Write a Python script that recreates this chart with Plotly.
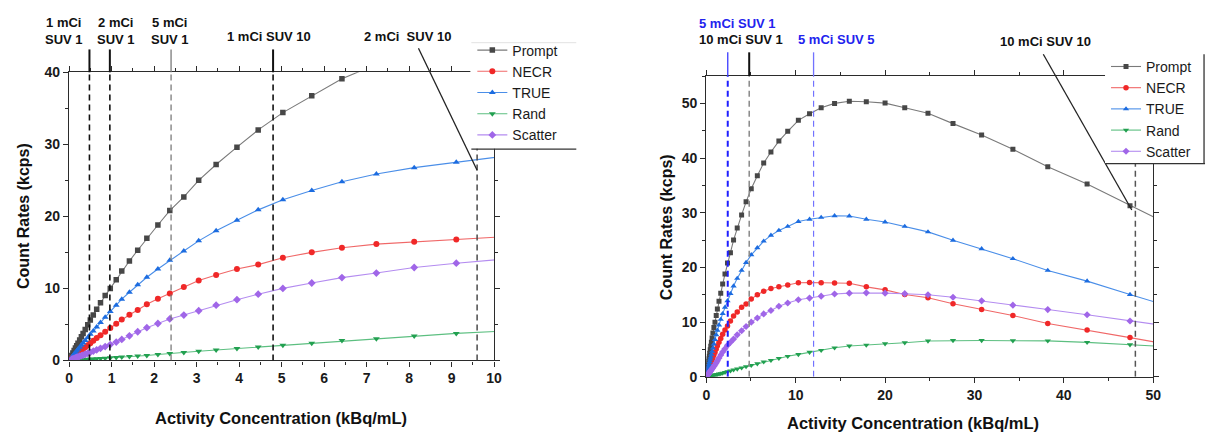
import plotly.graph_objects as go

# ---------------- data ----------------
activity = [0.06, 0.09, 0.12, 0.15, 0.18, 0.21, 0.25, 0.29, 0.33, 0.38,
            0.44, 0.50, 0.57, 0.65, 0.74, 0.85, 0.97, 1.11, 1.24, 1.42,
            1.615, 1.83, 2.09, 2.37, 2.70, 3.05, 3.46, 3.95, 4.45, 5.03,
            5.71, 6.42, 7.23, 8.12, 9.11, 10.3, 11.55, 12.85, 14.35, 16.0,
            17.9, 20.0, 22.2, 24.8, 27.6, 30.8, 34.3, 38.2, 42.6, 47.4, 52.8]

prompt = [0.7, 1.04, 1.38, 1.72, 2.05, 2.4, 2.85, 3.3, 3.75, 4.3,
          4.95, 5.6, 6.3, 7.1, 8.0, 9.0, 10.0, 11.2, 12.4, 13.8,
          15.3, 16.95, 18.8, 20.8, 22.7, 25.0, 27.2, 29.6, 32.0, 34.4,
          36.75, 39.1, 41.1, 43.1, 44.9, 46.9, 48.1, 49.2, 50.0, 50.4,
          50.3, 50.05, 49.2, 48.2, 46.3, 44.2, 41.6, 38.4, 35.25, 31.3, 27.0]

necr = [0.29, 0.43, 0.58, 0.72, 0.87, 1.01, 1.2, 1.4, 1.59, 1.83,
        2.12, 2.4, 2.73, 3.1, 3.5, 3.98, 4.5, 5.1, 5.67, 6.33,
        7.0, 7.8, 8.57, 9.3, 10.2, 11.1, 11.87, 12.7, 13.3, 14.25,
        15.0, 15.65, 16.15, 16.46, 16.8, 17.2, 17.25, 17.2, 17.15, 17.1,
        16.45, 15.9, 15.05, 14.45, 13.35, 12.3, 11.2, 9.76, 8.58, 7.17, 5.6]

true_c = [0.44, 0.66, 0.88, 1.1, 1.32, 1.54, 1.83, 2.12, 2.41, 2.77,
          3.2, 3.62, 4.1, 4.65, 5.25, 6.0, 6.8, 7.67, 8.5, 9.46,
          10.5, 11.55, 12.7, 13.9, 15.2, 16.6, 18.0, 19.45, 20.9, 22.3,
          23.6, 24.8, 25.87, 26.76, 27.5, 28.4, 28.8, 29.15, 29.45, 29.4,
          28.8, 28.3, 27.5, 26.5, 24.97, 23.4, 21.6, 19.45, 17.5, 15.05, 12.4]

rand = [0.02, 0.03, 0.04, 0.05, 0.06, 0.07, 0.09, 0.1, 0.12, 0.14,
        0.16, 0.18, 0.21, 0.24, 0.27, 0.31, 0.36, 0.41, 0.46, 0.53,
        0.6, 0.69, 0.82, 0.97, 1.1, 1.27, 1.45, 1.65, 1.87, 2.1,
        2.4, 2.75, 3.02, 3.38, 3.75, 4.1, 4.5, 4.85, 5.3, 5.64,
        5.8, 6.06, 6.24, 6.55, 6.64, 6.64, 6.6, 6.58, 6.3, 5.88, 5.4]

scatter = [0.14, 0.21, 0.28, 0.35, 0.41, 0.48, 0.57, 0.66, 0.75, 0.86,
           1.0, 1.13, 1.29, 1.47, 1.68, 1.93, 2.2, 2.55, 2.92, 3.42,
           3.98, 4.55, 5.13, 5.76, 6.3, 6.9, 7.67, 8.43, 9.2, 10.0,
           10.75, 11.5, 12.13, 12.9, 13.5, 14.1, 14.4, 14.75, 15.15, 15.3,
           15.35, 15.3, 15.2, 15.0, 14.55, 13.9, 13.1, 12.3, 11.35, 10.2, 9.0]

series_names = ["Prompt", "NECR", "TRUE", "Rand", "Scatter"]
series_values = [prompt, necr, true_c, rand, scatter]

# reference activity lines (kBq/mL)
left_marks = [0.48, 0.96, 2.4, 4.8]
left_dashed = [0.48, 0.96, 2.4, 4.8, 9.6]
right_marks = [2.4, 4.8, 12.0]
right_dashed = [2.4, 4.8, 12.0, 48.0]

left_xticks = list(range(0, 11))
left_yticks = [0, 10, 20, 30, 40]
right_xticks = [0, 10, 20, 30, 40, 50]
right_yticks = [0, 10, 20, 30, 40, 50]

# ---------------- styling ----------------
W, H = 1216, 441
FONT = "Liberation Sans, Arial, sans-serif"
marker_colors = ["#474747", "#f02828", "#1c6ce0", "#22a050", "#a066e8"]
line_colors = ["#7a7a7a", "#f06868", "#4a8ee8", "#5cbf80", "#b48cf0"]
symbols = ["square", "circle", "triangle-up", "triangle-down", "diamond"]

L_dom_x = [65.7 / W, 495.0 / W]
L_dom_y = [1 - 365.7 / H, 1 - 66.7 / H]
R_dom_x = [709.3 / W, 1160.7 / W]
R_dom_y = [1 - 382.7 / H, 1 - 70.6 / H]
L_rx, L_ry = [0, 10], [0, 40]
R_rx, R_ry = [0, 50], [0, 55]


def to_paper(v, dom, rng):
    return dom[0] + (v - rng[0]) / (rng[1] - rng[0]) * (dom[1] - dom[0])


def py(p):  # pixel row -> paper y
    return 1 - p / H


def pxx(p):  # pixel column -> paper x
    return p / W


def bold_labels(vals):
    return ["<b>%g</b>" % v for v in vals]


fig = go.Figure()

for i, name in enumerate(series_names):
    for xa, ya, leg, msize in (("x", "y", "legend", 6), ("x2", "y2", "legend2", 5.5)):
        fig.add_trace(go.Scatter(
            x=activity, y=series_values[i], name=name, mode="lines+markers",
            xaxis=xa, yaxis=ya, legend=leg,
            line=dict(color=line_colors[i], width=1.1),
            marker=dict(symbol=symbols[i], size=msize if symbols[i] != "square" else msize - 0.5,
                        color=marker_colors[i], line=dict(width=0)),
        ))

axis_common = dict(showline=True, linecolor="#2b2b2b", linewidth=1.3, mirror="allticks",
                   ticks="outside", ticklen=5, tickwidth=1.2, tickcolor="#2b2b2b",
                   showgrid=False, zeroline=False,
                   tickfont=dict(family=FONT, size=14, color="#1a1a1a"))

minor_style = dict(ticks="outside", ticklen=3, tickcolor="#2b2b2b")

fig.update_layout(
    width=W, height=H, autosize=False,
    margin=dict(l=0, r=0, t=0, b=0),
    paper_bgcolor="white", plot_bgcolor="white",
    font=dict(family=FONT),
    xaxis=dict(domain=L_dom_x, range=L_rx, tickvals=left_xticks,
               ticktext=bold_labels(left_xticks), anchor="y",
               minor=dict(dtick=0.5, **minor_style), **axis_common),
    yaxis=dict(domain=L_dom_y, range=L_ry, tickvals=left_yticks,
               ticktext=bold_labels(left_yticks), anchor="x",
               minor=dict(dtick=5, **minor_style), **axis_common),
    xaxis2=dict(domain=R_dom_x, range=R_rx, tickvals=right_xticks,
                ticktext=bold_labels(right_xticks), anchor="y2",
                minor=dict(dtick=5, **minor_style), **axis_common),
    yaxis2=dict(domain=R_dom_y, range=R_ry, tickvals=right_yticks,
                ticktext=bold_labels(right_yticks), anchor="x2",
                minor=dict(dtick=5, **minor_style), **axis_common),
    legend=dict(x=pxx(473), y=py(27.5), xanchor="left", yanchor="top",
                bgcolor="rgba(0,0,0,0)", borderwidth=0,
                font=dict(family=FONT, size=14, color="#1a1a1a"),
                tracegroupgap=0),
    legend2=dict(x=pxx(1113), y=py(44.5), xanchor="left", yanchor="top",
                 bgcolor="rgba(0,0,0,0)", borderwidth=0,
                 font=dict(family=FONT, size=14, color="#1a1a1a"),
                 tracegroupgap=0),
)

shapes = []
DASH = "6px,4px"
left_dash_style = {0.48: ("#111111", 1.6), 0.96: ("#111111", 1.6), 2.4: ("#7a7a7a", 1.3),
                   4.8: ("#111111", 1.6), 9.6: ("#4a4a4a", 1.5)}
for xv in left_dashed:
    c, w = left_dash_style[xv]
    shapes.append(dict(type="line", xref="x", yref="y", x0=xv, x1=xv, y0=0, y1=40,
                       line=dict(color=c, width=w, dash=DASH)))
left_mark_style = {0.48: ("#111111", 2.0), 0.96: ("#111111", 2.0), 2.4: ("#7a7a7a", 1.3),
                   4.8: ("#111111", 2.0)}
for xv in left_marks:
    c, w = left_mark_style[xv]
    xp = to_paper(xv, L_dom_x, L_rx)
    shapes.append(dict(type="line", xref="paper", yref="paper", x0=xp, x1=xp,
                       y0=py(43), y1=L_dom_y[1], line=dict(color=c, width=w)))
right_dash_style = {2.4: ("#1f1fff", 2.0), 4.8: ("#888888", 1.5), 12.0: ("#7272ff", 1.2),
                    48.0: ("#555555", 1.5)}
for xv in right_dashed:
    c, w = right_dash_style[xv]
    shapes.append(dict(type="line", xref="x2", yref="y2", x0=xv, x1=xv, y0=0, y1=55,
                       line=dict(color=c, width=w, dash=DASH)))
right_mark_style = {2.4: ("#3b3bff", 1.3), 4.8: ("#111111", 2.0), 12.0: ("#7272ff", 1.3)}
for xv in right_marks:
    c, w = right_mark_style[xv]
    xp = to_paper(xv, R_dom_x, R_rx)
    shapes.append(dict(type="line", xref="paper", yref="paper", x0=xp, x1=xp,
                       y0=py(46), y1=R_dom_y[1], line=dict(color=c, width=w)))

# pointer lines for the "SUV 10" labels
shapes.append(dict(type="line", xref="paper", yref="paper",
                   x0=to_paper(8.22, L_dom_x, L_rx), y0=py(41.7),
                   x1=to_paper(9.6, L_dom_x, L_rx), y1=to_paper(26.4, L_dom_y, L_ry),
                   line=dict(color="#222222", width=1.3)))
shapes.append(dict(type="line", xref="paper", yref="paper",
                   x0=to_paper(37.7, R_dom_x, R_rx), y0=py(48),
                   x1=to_paper(47.6, R_dom_x, R_rx), y1=to_paper(30.5, R_dom_y, R_ry),
                   line=dict(color="#222222", width=1.3)))

# legend boxes: white background hiding the frame corner, plus frame fragments
shapes.append(dict(type="rect", xref="paper", yref="paper", layer="above",
                   x0=pxx(471), x1=pxx(584), y0=py(146), y1=py(34),
                   fillcolor="white", line=dict(width=0)))
shapes.append(dict(type="rect", xref="paper", yref="paper", layer="above",
                   x0=pxx(1112), x1=pxx(1216), y0=py(161), y1=py(46),
                   fillcolor="white", line=dict(width=0)))
shapes.append(dict(type="line", xref="paper", yref="paper", x0=pxx(472), x1=pxx(578),
                   y0=py(36), y1=py(36), line=dict(color="#e2e2e2", width=1), layer="above"))
shapes.append(dict(type="line", xref="paper", yref="paper", x0=pxx(472), x1=pxx(578),
                   y0=py(146.5), y1=py(146.5), line=dict(color="#333333", width=1.3), layer="above"))
shapes.append(dict(type="line", xref="paper", yref="paper", x0=pxx(1112), x1=pxx(1213),
                   y0=py(161.5), y1=py(161.5), line=dict(color="#333333", width=1.3), layer="above"))
shapes.append(dict(type="line", xref="paper", yref="paper", x0=pxx(1212), x1=pxx(1212),
                   y0=py(48), y1=py(161.5), line=dict(color="#333333", width=1.3), layer="above"))
fig.update_layout(shapes=shapes)

anns = []


def ann(text, xpix, ypix, color="#111111", size=13, angle=0):
    anns.append(dict(text="<b>" + text.replace("<br>", "</b><br><b>") + "</b>",
                     xref="paper", yref="paper", x=pxx(xpix), y=py(ypix),
                     xanchor="center", yanchor="middle", showarrow=False, textangle=angle,
                     font=dict(family=FONT, size=size, color=color)))


ann("1 mCi<br>SUV 1", 61, 23.5)
ann("2 mCi<br>SUV 1", 113, 23.5)
ann("5 mCi<br>SUV 1", 168, 23.5)
ann("1 mCi SUV 10", 267.5, 30)
ann("2 mCi  SUV 10", 408, 30)
ann("5 mCi SUV 1", 741, 16, color="#2222ee")
ann("10 mCi SUV 1", 744.7, 32.5)
ann("5 mCi SUV 5", 841, 32.5, color="#2222ee")
ann("10 mCi SUV 10", 1052, 35)

ann("Count Rates (kcps)", 19, 216, size=16, angle=-90)
ann("Count Rates (kcps)", 669, 227, size=16, angle=-90)
ann("Activity Concentration (kBq/mL)", 280, 425, size=16.5)
ann("Activity Concentration (kBq/mL)", 918, 431, size=16.5)
fig.update_layout(annotations=anns)

fig.write_html("out.html")
